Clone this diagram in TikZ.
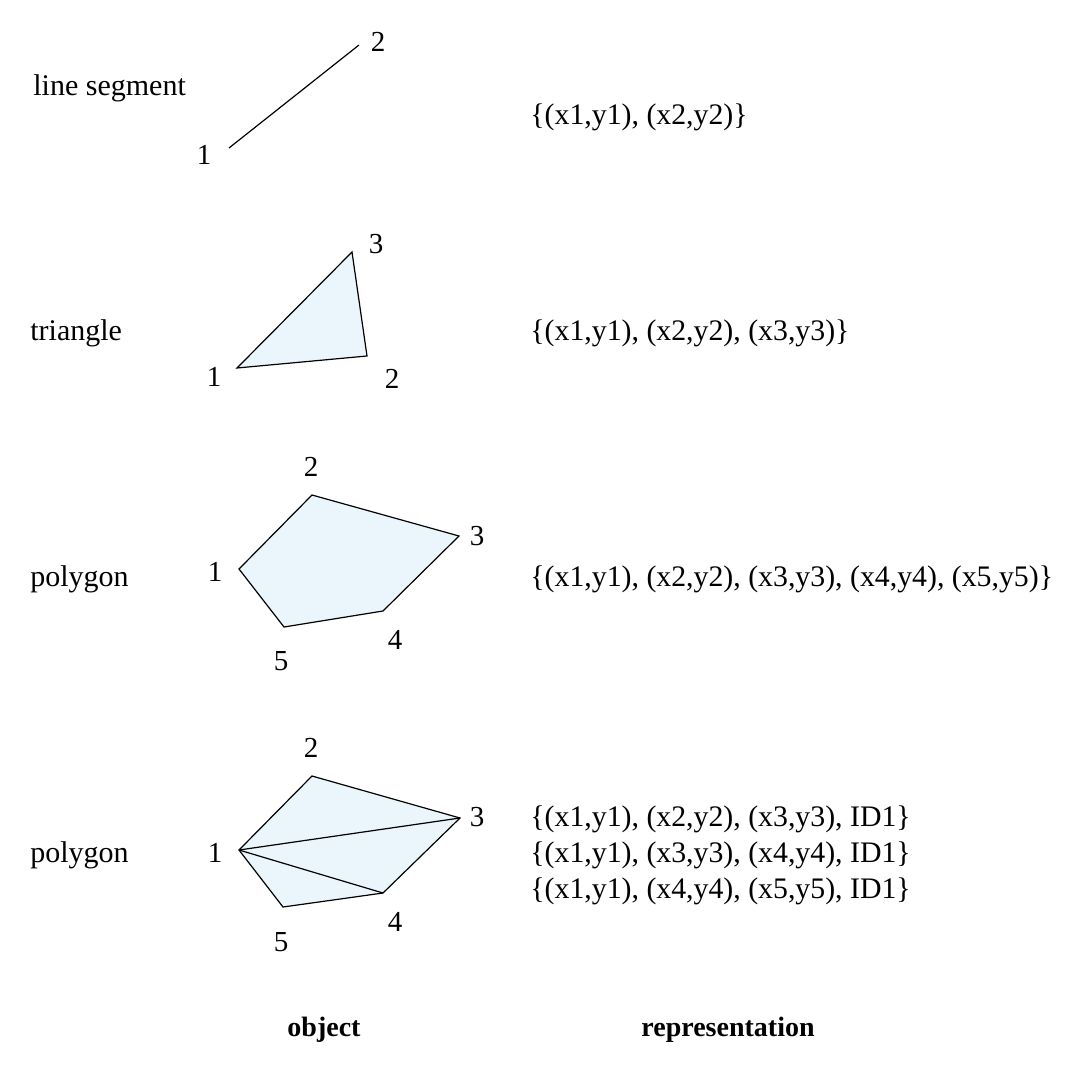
\documentclass[tikz,border=0pt]{standalone}
\usepackage{fontspec}
\setmainfont{Liberation Serif}
\begin{document}
\begin{tikzpicture}[x=0.5pt,y=-0.5pt,
  lbl/.style={inner sep=0pt,font=\fontsize{14.5}{17}\selectfont},
  txt/.style={inner sep=0pt,anchor=west,yshift=-1pt,font=\fontsize{15}{18}\selectfont},
  rep/.style={inner sep=0pt,anchor=west,yshift=-1pt,font=\fontsize{14.9}{18}\selectfont},
  head/.style={inner sep=0pt,font=\fontsize{14}{17}\selectfont\bfseries},
  polyshape/.style={draw=black,line width=0.6pt,fill=polyfill,line join=miter}]
\definecolor{polyfill}{HTML}{EAF6FB}
\useasboundingbox (0,0) rectangle (1079,1075);
% line segment
\coordinate (a1) at (229,148);
\coordinate (a2) at (359,45);
\draw[line width=0.6pt] (a1) -- (a2);
\node[lbl] (la1) at (204,155) {1};
\node[lbl] (la2) at (378,42) {2};
\node[txt] (tline) at (33,86) {line segment};
\node[rep] (rline) at (530,115) {\{(x1,y1), (x2,y2)\}};
% triangle
\coordinate (b1) at (237,368);
\coordinate (b2) at (367,356);
\coordinate (b3) at (352,252);
\draw[polyshape] (b1) -- (b2) -- (b3) -- cycle;
\node[lbl] (lb1) at (214,377) {1};
\node[lbl] (lb2) at (392,379) {2};
\node[lbl] (lb3) at (376,244) {3};
\node[txt] (ttri) at (30,331) {triangle};
\node[rep] (rtri) at (530,331) {\{(x1,y1), (x2,y2), (x3,y3)\}};
% polygon
\coordinate (c1) at (239,569);
\coordinate (c2) at (312,495);
\coordinate (c3) at (459,536);
\coordinate (c4) at (383,611);
\coordinate (c5) at (284,627);
\draw[polyshape] (c1) -- (c2) -- (c3) -- (c4) -- (c5) -- cycle;
\node[lbl] (lc1) at (215,572) {1};
\node[lbl] (lc2) at (311,467) {2};
\node[lbl] (lc3) at (477,536) {3};
\node[lbl] (lc4) at (395,640) {4};
\node[lbl] (lc5) at (281,661) {5};
\node[txt] (tpoly) at (30,577) {polygon};
\node[rep] (rpoly) at (530,577) {\{(x1,y1), (x2,y2), (x3,y3), (x4,y4), (x5,y5)\}};
% triangulated polygon
\coordinate (d1) at (239,850);
\coordinate (d2) at (312,776);
\coordinate (d3) at (460,818);
\coordinate (d4) at (383,893);
\coordinate (d5) at (283,907);
\draw[polyshape] (d1) -- (d2) -- (d3) -- (d4) -- (d5) -- cycle;
\draw[line width=0.6pt] (d1) -- (d3);
\draw[line width=0.6pt] (d1) -- (d4);
\node[lbl] (ld1) at (215,853) {1};
\node[lbl] (ld2) at (311,748) {2};
\node[lbl] (ld3) at (477,817) {3};
\node[lbl] (ld4) at (395,922) {4};
\node[lbl] (ld5) at (281,942) {5};
\node[txt] (tpoly2) at (30,853) {polygon};
\node[rep] (rq1) at (530,817) {\{(x1,y1), (x2,y2), (x3,y3), ID1\}};
\node[rep] (rq2) at (530,853) {\{(x1,y1), (x3,y3), (x4,y4), ID1\}};
\node[rep] (rq3) at (530,889) {\{(x1,y1), (x4,y4), (x5,y5), ID1\}};
% headings
\node[head] (hobj) at (324,1030) {object};
\node[head] (hrep) at (728,1030) {representation};
\end{tikzpicture}
\end{document}
